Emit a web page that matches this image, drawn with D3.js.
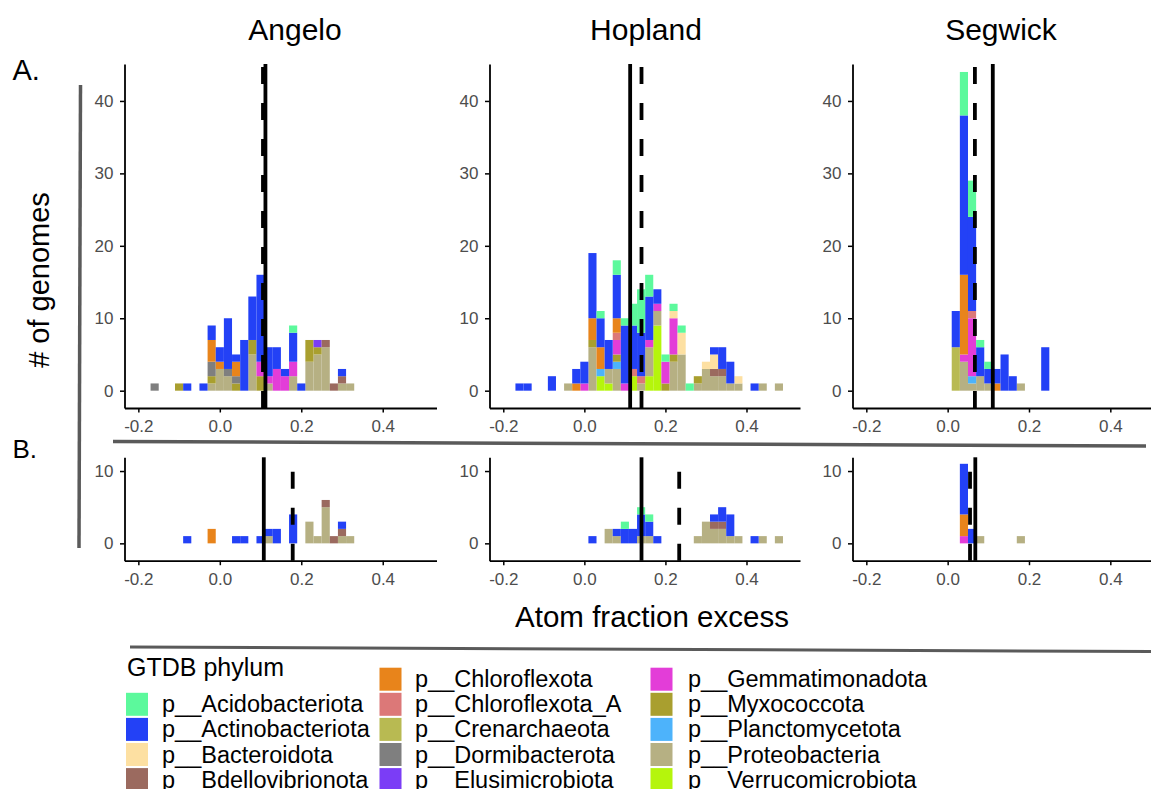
<!DOCTYPE html>
<html lang="en">
<head>
<meta charset="UTF-8">
<title>Atom fraction excess by site</title>
<script src="https://d3js.org/d3.v7.min.js"></script>
<style>
  body { margin: 0; background: #fff; }
  svg text { font-family: "Liberation Sans", Arial, Helvetica, sans-serif; }
  .axis .tick text { fill: #4d4d4d; font-size: 17px; }
  .axis path, .axis line { stroke: #000; }
</style>
</head>
<body>
<svg id="chart" width="1151" height="789"></svg>
<script>
// phyla in legend order, with short codes used in the bin tables below
const phyla = ["Acidobacteriota", "Actinobacteriota", "Bacteroidota", "Bdellovibrionota",
  "Chloroflexota", "Chloroflexota_A", "Crenarchaeota", "Dormibacterota", "Elusimicrobiota",
  "Gemmatimonadota", "Myxococcota", "Planctomycetota", "Proteobacteria", "Verrucomicrobiota"];
const codes = ["Aci", "Act", "Bac", "Bde", "Chl", "ChA", "Cre", "Dor", "Elu", "Gem", "Myx", "Pla", "Pro", "Ver"];
const phylumColors = ["#5cf99c", "#2341f6", "#fde0a2", "#9b6a5f", "#e8841b", "#dc7878", "#b8ba52",
  "#7f7f7f", "#7b3df6", "#e33dd8", "#a99f2f", "#4db3fb", "#b6b083", "#b5f50c"];

const sites = ["Angelo", "Hopland", "Segwick"];
const xTicks = [-0.2, 0.0, 0.2, 0.4];
const yTicksA = [0, 10, 20, 30, 40];
const yTicksB = [0, 10];
const binWidth = 0.02;

// histogram bins: [bin centre, {phylum code: count}]
const angeloA = [
  [-0.16, {Dor: 1}], [-0.10, {Myx: 1}], [-0.08, {Act: 1}], [-0.04, {Act: 1}],
  [-0.02, {Pro: 1, Myx: 1, Dor: 2, Chl: 3, Act: 2}],
  [0.00, {Pro: 3, Chl: 1, Act: 2}],
  [0.02, {Pro: 2, Dor: 1, Act: 7}],
  [0.04, {Myx: 1, Dor: 1, Chl: 2, Act: 1}],
  [0.06, {Act: 7}],
  [0.08, {Pro: 5, Myx: 2, Act: 6}],
  [0.10, {Myx: 2, Gem: 2, Act: 12}],
  [0.12, {Pro: 1, Gem: 1, Act: 4}],
  [0.14, {Gem: 3, Act: 3}],
  [0.16, {Gem: 2, Act: 1}],
  [0.18, {Pro: 2, Gem: 2, Act: 4, Aci: 1}],
  [0.20, {Act: 1}],
  [0.22, {Pro: 4, Myx: 3}],
  [0.24, {Pro: 5, Myx: 1, Elu: 1}],
  [0.26, {Pro: 6, Bde: 1}],
  [0.28, {Bde: 1}],
  [0.30, {Pro: 1, Bde: 1, Act: 1}],
  [0.32, {Pro: 1}]
];
const hoplandA = [
  [-0.16, {Act: 1}], [-0.14, {Act: 1}], [-0.08, {Act: 2}], [-0.04, {Pro: 1}],
  [-0.02, {Chl: 1, Act: 2}],
  [0.00, {Gem: 1, Act: 3}],
  [0.02, {Pro: 6, Myx: 1, Chl: 3, Act: 9}],
  [0.04, {Ver: 2, Pla: 1, Chl: 3, Act: 4, Aci: 1}],
  [0.06, {Ver: 1, Pro: 2, Act: 4}],
  [0.08, {Pro: 3, Pla: 1, Myx: 1, Gem: 2, ChA: 1, Chl: 2, Act: 6, Aci: 2}],
  [0.10, {Gem: 1, Act: 8, Aci: 1}],
  [0.12, {Ver: 2, ChA: 1, Act: 6, Aci: 3}],
  [0.14, {Pro: 1, ChA: 1, Act: 6, Aci: 6}],
  [0.16, {Ver: 2, Pro: 4, Gem: 1, Act: 6, Aci: 3}],
  [0.18, {Ver: 9, Pro: 2, Gem: 1, Act: 2}],
  [0.20, {Myx: 1, Gem: 3, Aci: 1}],
  [0.22, {Pro: 4, Myx: 1, Gem: 5, Bac: 1, Aci: 1}],
  [0.24, {Pro: 5, Bac: 3, Aci: 1}],
  [0.26, {Aci: 1}],
  [0.28, {Pro: 1, Myx: 1}],
  [0.30, {Pro: 3, Bac: 1}],
  [0.32, {Pro: 2, Bde: 1, Bac: 2, Act: 1}],
  [0.34, {Pro: 2, Bde: 1, Act: 3}],
  [0.36, {Pro: 1, Act: 3}],
  [0.38, {Pro: 1, Bac: 1}],
  [0.42, {Act: 1}], [0.44, {Pro: 1}], [0.48, {Pro: 1}]
];
const segwickA = [
  [0.02, {Cre: 6, Act: 5}],
  [0.04, {Pro: 4, Gem: 1, Chl: 11, Act: 22, Aci: 6}],
  [0.06, {Pro: 1, Pla: 1, Gem: 8, ChA: 1, Act: 13, Aci: 5}],
  [0.08, {Pro: 2, Act: 4, Aci: 1}],
  [0.10, {Pro: 1, Act: 2, Aci: 1}],
  [0.12, {Chl: 1, Act: 2}],
  [0.14, {Act: 5}],
  [0.16, {Act: 2}],
  [0.18, {Pro: 1}],
  [0.24, {Act: 6}]
];
const angeloB = [
  [-0.08, {Act: 1}], [-0.02, {Chl: 2}], [0.04, {Act: 1}], [0.06, {Act: 1}], [0.10, {Act: 1}],
  [0.12, {Pro: 1, Act: 1}],
  [0.14, {Act: 2}],
  [0.18, {Act: 4}],
  [0.22, {Pro: 3}],
  [0.24, {Pro: 1}],
  [0.26, {Pro: 5, Bde: 1}],
  [0.28, {Bde: 1}],
  [0.30, {Pro: 1, Bde: 1, Act: 1}],
  [0.32, {Pro: 1}]
];
const hoplandB = [
  [0.02, {Act: 1}],
  [0.06, {Pro: 2}],
  [0.08, {Pro: 1, Act: 1}],
  [0.10, {Act: 2, Aci: 1}],
  [0.12, {Act: 2}],
  [0.14, {Pro: 1, Act: 3, Aci: 1}],
  [0.16, {Pro: 1, Act: 2, Aci: 1}],
  [0.18, {Act: 1}],
  [0.28, {Pro: 1}],
  [0.30, {Pro: 3}],
  [0.32, {Pro: 2, Bde: 1, Act: 1}],
  [0.34, {Pro: 2, Bde: 1, Act: 2}],
  [0.36, {Pro: 1, Act: 3}],
  [0.38, {Pro: 1}],
  [0.42, {Act: 1}], [0.44, {Pro: 1}], [0.48, {Pro: 1}]
];
const segwickB = [
  [0.04, {Gem: 1, Chl: 3, Act: 7}],
  [0.06, {Act: 2}],
  [0.08, {Pro: 1}],
  [0.18, {Pro: 1}]
];

// vertical reference lines per site (Angelo, Hopland, Segwick)
const solidA = [0.112, 0.113, 0.111];
const dashedA = [0.106, 0.141, 0.067];
const solidB = [0.108, 0.141, 0.068];
const dashedB = [0.179, 0.234, 0.055];

const svg = d3.select("#chart");

// layout
const cols = [[124.5, 436.5], [489.5, 800], [852.5, 1164]];
const rows = {
  A: {range: [408, 64], domain: [-2.39, 45.1], ticks: yTicksA, data: [angeloA, hoplandA, segwickA], solid: solidA, dashed: dashedA},
  B: {range: [560.7, 457.3], domain: [-2.4, 11.9], ticks: yTicksB, data: [angeloB, hoplandB, segwickB], solid: solidB, dashed: dashedB}
};

const stack = d3.stack()
  .keys(codes.slice().reverse())   // first legend level ends up on top
  .value((d, k) => d[1][k] || 0);
const color = d3.scaleOrdinal().domain(codes).range(phylumColors);

Object.values(rows).forEach(row => {
  const y = d3.scaleLinear().domain(row.domain).range(row.range);
  cols.forEach((c, i) => {
    const x = d3.scaleLinear().domain([-0.234, 0.532]).range(c);
    const g = svg.append("g");

    // stacked bars
    const layers = stack(row.data[i]);
    g.selectAll("g.layer").data(layers).enter().append("g")
      .attr("fill", d => color(d.key))
      .selectAll("rect").data(d => d.filter(s => s[1] > s[0])).enter().append("rect")
      .attr("x", d => x(d.data[0] - binWidth / 2))
      .attr("width", d => x(d.data[0] + binWidth / 2) - x(d.data[0] - binWidth / 2))
      .attr("y", d => y(d[1]))
      .attr("height", d => y(d[0]) - y(d[1]));

    // axes
    g.append("g").attr("class", "axis")
      .attr("transform", `translate(0,${row.range[0]})`)
      .call(d3.axisBottom(x).tickValues(xTicks).tickFormat(d => d.toFixed(1)).tickSize(4.5).tickSizeOuter(0).tickPadding(7.5))
      .call(a => a.select(".domain").attr("stroke-width", 1.8))
      .call(a => a.selectAll(".tick line").attr("stroke-width", 1.5));
    g.append("g").attr("class", "axis")
      .attr("transform", `translate(${c[0]},0)`)
      .call(d3.axisLeft(y).tickValues(row.ticks).tickSize(4.5).tickSizeOuter(0).tickPadding(6.5))
      .call(a => a.select(".domain").attr("stroke-width", 1.8))
      .call(a => a.selectAll(".tick line").attr("stroke-width", 1.5));

    // reference lines, drawn from panel bottom to top
    g.append("line")
      .attr("x1", x(row.dashed[i])).attr("x2", x(row.dashed[i]))
      .attr("y1", row.range[0]).attr("y2", row.range[1])
      .attr("stroke", "#000").attr("stroke-width", 3.8).attr("stroke-dasharray", "17,19");
    g.append("line")
      .attr("x1", x(row.solid[i])).attr("x2", x(row.solid[i]))
      .attr("y1", row.range[0]).attr("y2", row.range[1])
      .attr("stroke", "#000").attr("stroke-width", 3.8);
  });
});

// site titles
const titleX = [295, 646, 1001];
svg.selectAll("text.site").data(sites).enter().append("text")
  .attr("class", "site")
  .attr("x", (d, i) => titleX[i]).attr("y", 40)
  .attr("text-anchor", "middle").attr("font-size", 30).text(d => d);

svg.append("text").attr("x", 12.5).attr("y", 80).attr("font-size", 29).text("A.");
svg.append("text").attr("x", 12.5).attr("y", 458).attr("font-size", 26).text("B.");

svg.append("text")
  .attr("transform", "translate(49,280) rotate(-90)")
  .attr("text-anchor", "middle").attr("font-size", 29).text("# of genomes");

svg.append("text").attr("x", 652).attr("y", 627)
  .attr("text-anchor", "middle").attr("font-size", 29.5).text("Atom fraction excess");

// grey separator strokes of the composed figure
const sep = svg.append("g").attr("stroke", "#5a5a5a").attr("fill", "none");
sep.append("line").attr("x1", 80.5).attr("y1", 85).attr("x2", 79).attr("y2", 548).attr("stroke-width", 3.5);
sep.append("line").attr("x1", 113).attr("y1", 441.5).attr("x2", 1146).attr("y2", 446).attr("stroke-width", 3.5);
sep.append("line").attr("x1", 130).attr("y1", 647).attr("x2", 1151).attr("y2", 651.5).attr("stroke-width", 3);

// legend
const legend = svg.append("g");
legend.append("text").attr("x", 127).attr("y", 676).attr("font-size", 25).text("GTDB phylum");
const swatchX = [126, 379.5, 650.5];
const labelX = [162, 415, 688];
const slots = phyla.map((p, i) => {
  const slot = i + 1;                 // first slot taken by the title
  return {name: p, code: codes[i], col: Math.floor(slot / 5), row: slot % 5};
});
const item = legend.selectAll("g.item").data(slots).enter().append("g").attr("class", "item")
  .attr("transform", d => `translate(0,${667.7 + 25.1 * d.row})`);
item.append("rect")
  .attr("x", d => swatchX[d.col]).attr("width", 22).attr("height", 23)
  .attr("fill", d => color(d.code));
item.append("text")
  .attr("x", d => labelX[d.col]).attr("y", 19.5)
  .attr("font-size", 23.5).text(d => "p__" + d.name);
</script>
</body>
</html>
